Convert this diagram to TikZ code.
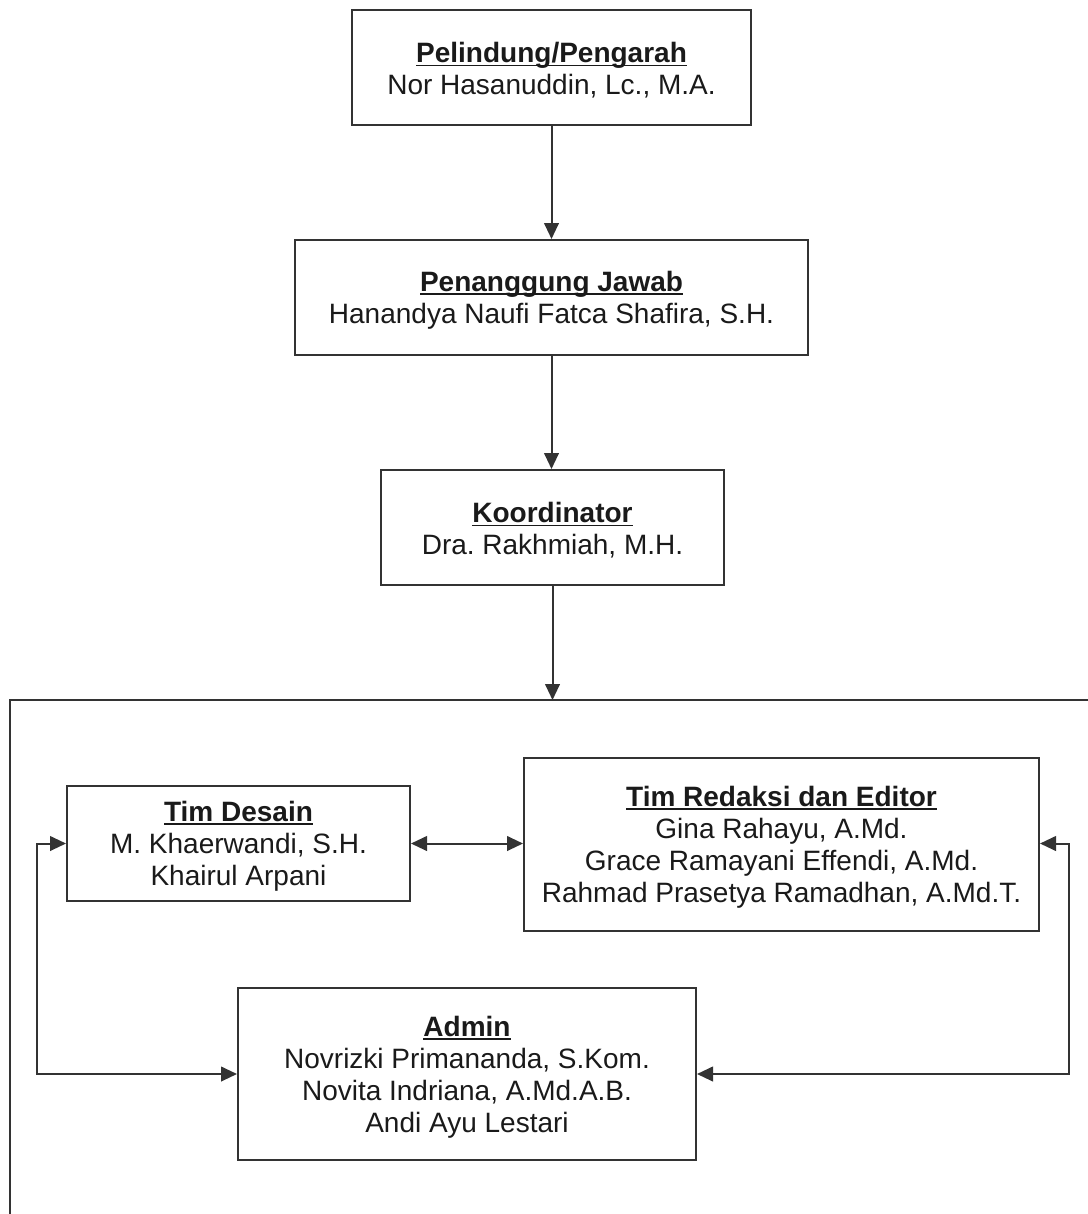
\documentclass[tikz,border=0pt]{standalone}
\usepackage{fontspec}
\setmainfont{Liberation Sans}
\usetikzlibrary{arrows.meta}
\definecolor{linec}{HTML}{333333}
\definecolor{textc}{HTML}{1A1A1A}
\newcommand\ultitle[1]{\setbox0\hbox{\bfseries #1}\rule{0pt}{19.5pt}\rlap{\color{textc}\rule[-2.8pt]{\wd0}{1.4pt}}\box0}
\frenchspacing
\begin{document}
\begin{tikzpicture}[x=0.75pt,y=-0.75pt,
  box/.style={draw=linec, line width=1.5pt, align=center, text=textc,
    font=\fontsize{21}{24}\selectfont\frenchspacing, inner sep=0pt},
  conn/.style={draw=linec, line width=1.5pt, -{Triangle[length=12pt,width=11pt]}},
  conn2/.style={draw=linec, line width=1.5pt, {Triangle[length=12pt,width=11pt]}-{Triangle[length=12pt,width=11pt]}},
  frame/.style={draw=linec, line width=1.5pt}]
\useasboundingbox (0,0) rectangle (1088,1214);
\fill[white] (0,0) rectangle (1088,1214);

\node[box, minimum width={399*0.75pt}, minimum height={115*0.75pt}] (pel) at (551.5,67.5)
  {\ultitle{Pelindung/Pengarah}\\Nor Hasanuddin, Lc., M.A.};
\node[box, minimum width={513*0.75pt}, minimum height={115*0.75pt}] (pj) at (551.5,297.5)
  {\ultitle{Penanggung Jawab}\\Hanandya Naufi Fatca Shafira, S.H.};
\node[box, minimum width={343*0.75pt}, minimum height={115*0.75pt}] (koord) at (552.5,527.5)
  {\ultitle{Koordinator}\\Dra. Rakhmiah, M.H.};

\draw[frame] (1100,700) -- (10,700) -- (10,1230);
\coordinate (grp) at (552.5,700);

\node[box, minimum width={343*0.75pt}, minimum height={115*0.75pt}] (desain) at (238.5,843.5)
  {\ultitle{Tim Desain}\\M. Khaerwandi, S.H.\\Khairul Arpani};
\node[box, minimum width={515*0.75pt}, minimum height={173*0.75pt}] (redaksi) at (781.5,844.5)
  {\ultitle{Tim Redaksi dan Editor}\\Gina Rahayu, A.Md.\\Grace Ramayani Effendi, A.Md.\\Rahmad Prasetya Ramadhan, A.Md.T.};
\node[box, minimum width={458*0.75pt}, minimum height={172*0.75pt}] (admin) at (467,1074)
  {\ultitle{Admin}\\Novrizki Primananda, S.Kom.\\Novita Indriana, A.Md.A.B.\\Andi Ayu Lestari};

\draw[conn] (pel.south) -- (pj.north);
\draw[conn] (pj.south) -- (pj.south |- koord.north);
\draw[conn] (koord.south) -- (grp);
\draw[conn2] (desain.east) -- (desain.east -| redaksi.west);
\draw[conn2] (desain.west) -- ++(-29,0) |- (admin.west);
\draw[conn2] (desain.east -| redaksi.east) -- ++(29,0) |- (admin.east);
\end{tikzpicture}
\end{document}
